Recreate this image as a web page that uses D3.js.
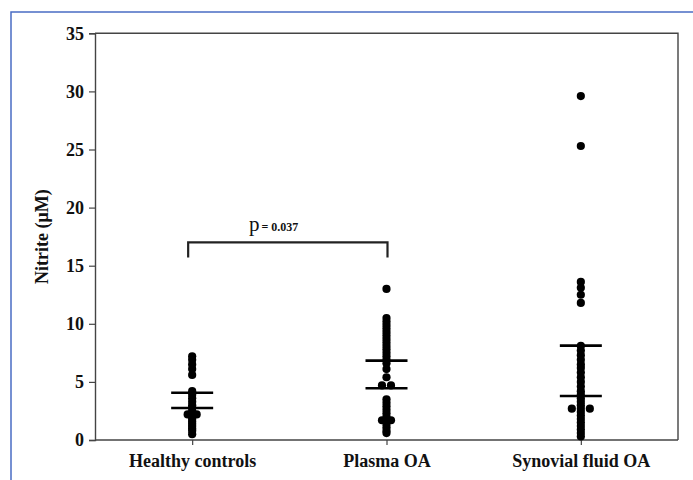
<!DOCTYPE html>
<html>
<head>
<meta charset="utf-8">
<script src="https://cdn.jsdelivr.net/npm/d3@7"></script>
<style>
  body { margin: 0; background: #fff; }
  svg text { font-family: "Liberation Serif", "Times New Roman", serif; }
</style>
</head>
<body>
<div id="chart"></div>
<script>
// values (nitrite, uM)
var categories = ["Healthy controls", "Plasma OA", "Synovial fluid OA"];
var healthy = [7.2, 6.9, 6.5, 6.1, 5.6, 4.2, 3.9, 3.6, 3.3, 3.0, 2.8, 2.5, 2.2, 2.2, 2.0, 1.8, 1.6, 1.4, 1.2, 1.0, 0.8, 0.5];
var plasma = [13.0, 10.5, 10.2, 9.9, 9.6, 9.3, 9.0, 8.7, 8.4, 8.1, 7.8, 7.5, 7.2, 6.9, 6.6, 6.1, 5.4, 4.7, 4.7, 3.5, 3.2, 2.9, 2.6, 2.3, 2.0, 1.7, 1.7, 1.4, 1.1, 0.8, 0.6];
var synovial = [29.6, 25.3, 13.6, 13.1, 12.5, 11.8, 8.1, 7.7, 7.3, 6.9, 6.5, 6.2, 5.8, 5.4, 5.0, 4.6, 4.2, 3.9, 3.6, 3.3, 3.0, 2.7, 2.7, 2.7, 2.4, 2.1, 1.8, 1.5, 1.2, 0.9, 0.6, 0.3];
// upper and lower horizontal bars per group
var upperBar = [4.07, 6.83, 8.12];
var lowerBar = [2.75, 4.45, 3.79];
var yTicks = [0, 5, 10, 15, 20, 25, 30, 35];
var pLabel = "0.037";

var width = 693, height = 480;
var margin = {top: 33.3, left: 95, bottom: 40, right: 15};

var svg = d3.select("#chart").append("svg")
    .attr("width", width)
    .attr("height", height);

// blue page frame
svg.append("path")
    .attr("d", "M11,700 L11,12 L700,12")
    .style("fill", "none")
    .style("stroke", "#4a6cc4")
    .style("stroke-width", 1.5);

var x = d3.scalePoint()
    .domain(categories)
    .range([margin.left, width - margin.right])
    .padding(0.5);

var y = d3.scaleLinear()
    .domain([0, 35])
    .range([height - margin.bottom, margin.top]);

// plot box (top and right)
svg.append("path")
    .attr("d", "M" + margin.left + "," + y(35) + " L" + (width - margin.right) + "," + y(35) +
               " L" + (width - margin.right) + "," + y(0))
    .style("fill", "none")
    .style("stroke", "#444")
    .style("stroke-width", 1.4);

var yAxis = svg.append("g")
    .attr("transform", "translate(" + margin.left + ",0)")
    .call(d3.axisLeft(y).tickValues(yTicks).tickSize(6).tickPadding(5));

var xAxis = svg.append("g")
    .attr("transform", "translate(0," + y(0) + ")")
    .call(d3.axisBottom(x).tickSize(5).tickPadding(9).tickSizeOuter(0));

[yAxis, xAxis].forEach(function(g) {
    g.select(".domain").style("stroke", "#444").style("stroke-width", 1.4);
    g.selectAll(".tick line").style("stroke", "#444").style("stroke-width", 1.2);
    g.selectAll("text")
        .style("font-family", "'Liberation Serif', serif")
        .style("font-weight", "bold")
        .style("font-size", "18px")
        .style("fill", "#111");
});
// x axis runs the full width
xAxis.select(".domain").attr("d", "M" + margin.left + ",0H" + (width - margin.right));

svg.append("text")
    .attr("transform", "translate(48," + ((y(0) + y(35)) / 2) + ") rotate(-90)")
    .attr("text-anchor", "middle")
    .style("font-weight", "bold")
    .style("font-size", "18px")
    .style("fill", "#111")
    .text("Nitrite (μM)");

// points: repeated values are spread sideways like a dot density plot
var groups = [healthy, plasma, synovial];
var spacing = 9;
var points = [];
groups.forEach(function(vals, gi) {
    var counts = d3.rollup(vals, function(v) { return v.length; }, function(d) { return d; });
    var seen = new Map();
    vals.forEach(function(v) {
        var n = counts.get(v), k = seen.get(v) || 0;
        seen.set(v, k + 1);
        points.push({cat: categories[gi], value: v, off: (k - (n - 1) / 2) * spacing});
    });
});

svg.selectAll(".datapoint")
    .data(points)
    .enter()
    .append("circle")
        .attr("class", "datapoint")
        .attr("cx", function(d) { return x(d.cat) + d.off; })
        .attr("cy", function(d) { return y(d.value); })
        .attr("r", 4.1)
        .style("fill", "#000");

// horizontal bars
var bars = [];
categories.forEach(function(c, i) {
    bars.push({cat: c, value: upperBar[i]});
    bars.push({cat: c, value: lowerBar[i]});
});
svg.selectAll(".bar-line")
    .data(bars)
    .enter()
    .append("line")
        .attr("class", "bar-line")
        .attr("x1", function(d) { return x(d.cat) - 21; })
        .attr("x2", function(d) { return x(d.cat) + 21; })
        .attr("y1", function(d) { return y(d.value); })
        .attr("y2", function(d) { return y(d.value); })
        .style("stroke", "#000")
        .style("stroke-width", 2.6);

// significance bracket
var bx1 = x(categories[0]) - 4, bx2 = x(categories[1]) + 1;
svg.append("path")
    .attr("d", "M" + bx1 + "," + y(15.7) + " L" + bx1 + "," + y(17) +
               " L" + bx2 + "," + y(17) + " L" + bx2 + "," + y(15.7))
    .style("fill", "none")
    .style("stroke", "#222")
    .style("stroke-width", 2.2);

var pt = svg.append("text")
    .attr("x", 249)
    .attr("y", y(17) - 11)
    .style("fill", "#111");
pt.append("tspan")
    .style("font-size", "21px")
    .text("p");
pt.append("tspan")
    .attr("dx", 2)
    .style("font-size", "12px")
    .style("font-weight", "bold")
    .text("= " + pLabel);
</script>
</body>
</html>
